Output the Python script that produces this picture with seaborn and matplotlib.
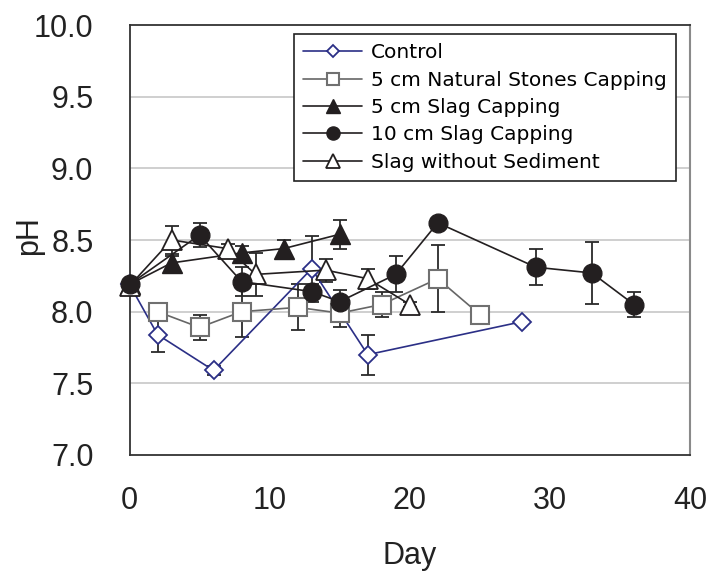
import numpy as np
import pandas as pd
import matplotlib
matplotlib.use("Agg")
import matplotlib.pyplot as plt
import seaborn as sns

# pH over time for each treatment
control_day = [0, 2, 6, 13, 17, 28]
control_ph = [8.19, 7.84, 7.59, 8.30, 7.70, 7.93]
control_err = [0, 0.12, 0.03, 0.23, 0.14, 0]

stones_day = [2, 5, 8, 12, 15, 18, 22, 25]
stones_ph = [8.00, 7.89, 8.00, 8.03, 7.99, 8.05, 8.23, 7.98]
stones_err = [0.02, 0.085, 0.175, 0.16, 0.095, 0.085, 0.235, 0.04]

slag5_day = [0, 3, 8, 11, 15]
slag5_ph = [8.19, 8.34, 8.41, 8.44, 8.54]
slag5_err = [0, 0.05, 0.05, 0.06, 0.10]

slag10_day = [0, 5, 8, 13, 15, 19, 22, 29, 33, 36]
slag10_ph = [8.19, 8.535, 8.21, 8.14, 8.07, 8.26, 8.62, 8.31, 8.27, 8.05]
slag10_err = [0, 0.085, 0.10, 0.05, 0.08, 0.125, 0.02, 0.125, 0.215, 0.085]

nosed_day = [0, 3, 7, 9, 14, 17, 20]
nosed_ph = [8.18, 8.50, 8.44, 8.26, 8.29, 8.23, 8.05]
nosed_err = [0, 0.10, 0.03, 0.15, 0.08, 0.07, 0.02]

labels = ["Control", "5 cm Natural Stones Capping", "5 cm Slag Capping",
          "10 cm Slag Capping", "Slag without Sediment"]

sns.set_theme(style="white")
plt.rcParams["font.family"] = ["Liberation Sans", "DejaVu Sans"]

fig = plt.figure(figsize=(7.1, 5.71), dpi=100)
ax = fig.add_axes([129.5 / 710, 1 - 455 / 571, (690 - 129.5) / 710, (455 - 25) / 571])

navy = "#2b2f86"
black = "#231f20"
gray = "#707070"

series = [
    (control_day, control_ph, control_err, 3,
     dict(color=navy, marker="D", markersize=9.3, markerfacecolor="white",
          markeredgecolor=navy, markeredgewidth=1.3, linewidth=1.2)),
    (stones_day, stones_ph, stones_err, 3,
     dict(color="#666666", marker="s", markersize=13, markerfacecolor="white",
          markeredgecolor=gray, markeredgewidth=1.5, linewidth=1.2)),
    (slag5_day, slag5_ph, slag5_err, 3,
     dict(color=black, marker="^", markersize=15, markerfacecolor=black,
          markeredgecolor=black, markeredgewidth=1.0, linewidth=1.2)),
    (slag10_day, slag10_ph, slag10_err, 4,
     dict(color=black, marker="o", markersize=13.5, markerfacecolor=black,
          markeredgecolor=black, markeredgewidth=1.0, linewidth=1.2)),
    (nosed_day, nosed_ph, nosed_err, 3,
     dict(color=black, marker="^", markersize=15, markerfacecolor="white",
          markeredgecolor=black, markeredgewidth=1.3, linewidth=1.2)),
]

for (day, ph, err, z, style), lab in zip(series, labels):
    df = pd.DataFrame({"day": day, "pH": ph, "err": err})
    ax.errorbar(df["day"], df["pH"], yerr=df["err"], fmt="none",
                ecolor="#2a2a2a", elinewidth=1.3, capsize=5, capthick=1.3, zorder=2)
    sns.lineplot(data=df, x="day", y="pH", ax=ax, label=lab, zorder=z,
                 clip_on=False, **style)

ax.set_xlim(0, 40)
ax.set_ylim(7.0, 10.0)
ax.set_xticks([0, 10, 20, 30, 40])
ax.set_yticks(np.arange(7.0, 10.01, 0.5))
ax.set_yticklabels([f"{v:.1f}" for v in np.arange(7.0, 10.01, 0.5)])
ax.tick_params(axis="y", direction="in", length=3, pad=26, labelsize=22, colors="#222222")
ax.tick_params(axis="x", direction="in", length=5, pad=22, labelsize=22, colors="#222222")

for y in [7.5, 8.0, 8.5, 9.0, 9.5]:
    ax.axhline(y, color="#cccccc", linewidth=1.3, zorder=0)

for side in ["left", "bottom", "top"]:
    ax.spines[side].set_color("#333333")
    ax.spines[side].set_linewidth(1.3)
ax.spines["right"].set_color("#8a8a8a")
ax.spines["right"].set_linewidth(1.5)

ax.set_xlabel("Day", fontsize=22, labelpad=18, color="#222222")
ax.set_ylabel("pH", fontsize=22, color="#222222")
ax.yaxis.set_label_coords(-0.1525, 0.51)

leg = ax.legend(loc="upper right", bbox_to_anchor=(0.9745, 0.979), borderaxespad=0,
                prop={"family": ["DejaVu Sans"], "size": 14.5},
                frameon=True, fancybox=False, shadow=False, framealpha=1,
                edgecolor="#222222", handlelength=2.95, handletextpad=0.42,
                labelspacing=0.42, borderpad=0.45, markerscale=0.7)
leg.get_frame().set_linewidth(1.2)
for t in leg.get_texts():
    t.set_color("black")

fig.savefig("out.png", dpi=100)
